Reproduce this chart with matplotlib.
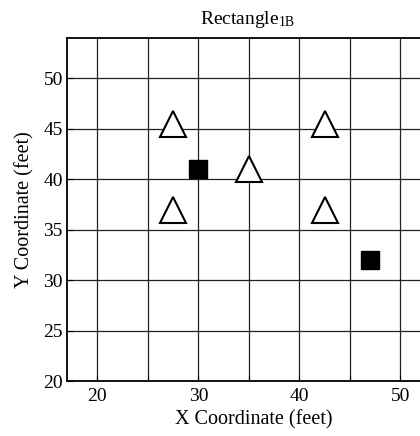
import matplotlib
matplotlib.use("Agg")
import matplotlib.pyplot as plt
from matplotlib.ticker import MultipleLocator

plt.rcParams['font.family'] = ['Liberation Serif', 'DejaVu Serif']
plt.rcParams['mathtext.fontset'] = 'custom'
plt.rcParams['mathtext.rm'] = 'Liberation Serif'
plt.rcParams['mathtext.it'] = 'Liberation Serif:italic'

tri_x = [27.5, 27.5, 35, 42.5, 42.5]
tri_y = [45.5, 37, 41, 45.5, 37]
sq_x = [30, 47]
sq_y = [41, 32]
x_ticks = [20, 30, 40, 50]
y_ticks = [20, 25, 30, 35, 40, 45, 50]

fig = plt.figure(figsize=(4.2, 4.36), dpi=100)
ax = fig.add_axes([0.1595, 0.1261, 0.89, 0.7867])
ax.set_xlim(17, 54)
ax.set_ylim(20, 54)
ax.set_xticks(x_ticks)
ax.xaxis.set_minor_locator(MultipleLocator(5))
ax.set_yticks(y_ticks)
ax.grid(True, which='both', color='#222222', linewidth=0.9)
ax.tick_params(which='both', direction='in', length=4, labelsize=14, width=0.8)
ax.tick_params(axis='x', pad=5)
ax.tick_params(axis='y', pad=3)
for s in ax.spines.values():
    s.set_linewidth(1.3)

ax.plot(tri_x, tri_y, linestyle='none', marker='^', markersize=18.5,
        markerfacecolor='white', markeredgecolor='black', markeredgewidth=1.5, zorder=3)
ax.plot(sq_x, sq_y, linestyle='none', marker='s', markersize=12.5,
        markerfacecolor='black', markeredgecolor='black', zorder=3)

ax.set_xlabel('X Coordinate (feet)', fontsize=14.5, labelpad=4)
ax.set_ylabel('Y Coordinate (feet)', fontsize=14.5, labelpad=6)
fig.text(0.59, 0.955, r'Rectangle$_{\mathrm{1B}}$', fontsize=14, ha='center', va='center')

fig.savefig('out.png', dpi=100)
